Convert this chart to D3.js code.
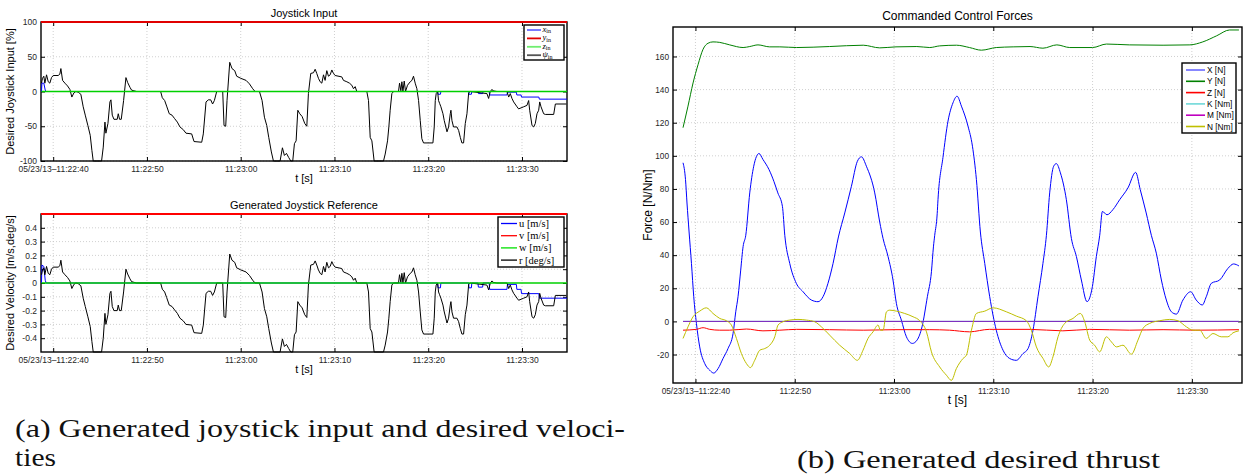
<!DOCTYPE html>
<html lang="en">
<head>
<meta charset="UTF-8">
<title>Joystick input, desired velocities and thrust</title>
<script src="https://d3js.org/d3.v7.min.js"></script>
<style>
    body { margin: 0; background: #fff; }
    svg { display: block; font-family: "Liberation Sans", Arial, sans-serif; }
    .grid line { stroke: #c4c4c4; stroke-width: 0.8; stroke-dasharray: 1,2; }
    .tick line { stroke: #000; stroke-width: 1; }
    .tick text { fill: #262626; }
</style>
</head>
<body>
<div id="fig"></div>
<script>
// ---- time axis (seconds after 11:22:40) ----
let xTickVals = [0, 10, 20, 30, 40, 50]
let xTickLabels = ["05/23/13\u201311:22:40", "11:22:50", "11:23:00", "11:23:10", "11:23:20", "11:23:30"]

// ---- (a) joystick log ----
let tJoy = [-1.25,-1.14,-1.0,-0.89,-0.71,-0.53,-0.36,-0.18,0,0.53,
    0.71,0.82,1.0,1.25,1.53,1.78,1.99,2.21,2.42,2.67,
    2.95,3.2,3.42,3.7,3.95,4.13,4.27,5.16,5.34,5.52,
    5.62,5.84,6.05,6.16,6.3,6.48,6.83,6.94,7.08,7.26,
    7.51,7.76,7.94,8.19,8.36,8.61,8.9,11.46,11.64,11.89,
    12.1,12.38,12.67,12.95,13.24,13.52,13.88,14.16,14.77,15.02,
    15.84,16.01,16.3,16.55,16.8,17.0,17.19,17.44,18.08,18.22,
    18.4,18.54,18.83,19.07,19.36,19.57,20.0,20.57,20.93,21.28,
    21.53,22.0,22.28,22.53,22.78,22.99,23.27,23.49,24.2,24.45,
    24.66,24.88,25.12,25.34,25.55,25.73,25.91,26.09,26.3,26.55,
    26.83,27.05,27.22,27.47,27.76,27.94,28.11,28.29,28.47,28.65,
    28.83,29.0,29.18,29.36,29.54,29.72,29.89,30.07,30.78,30.96,
    31.32,31.6,31.85,32.03,32.21,32.38,33.45,33.63,33.81,33.99,
    34.23,35.23,35.41,35.66,35.8,35.94,36.12,36.3,36.83,36.94,
    37.08,37.19,37.3,37.44,37.58,37.79,38.08,38.26,38.43,38.61,
    38.79,38.97,39.15,39.32,39.5,40.5,40.64,40.75,40.85,41.0,
    41.1,41.21,41.35,41.57,41.71,42.0,42.17,42.35,42.42,42.53,
    42.7,43.06,43.24,43.42,43.59,43.77,43.95,44.13,44.31,44.48,
    46.26,46.44,46.62,46.8,46.9,47.33,48.4,48.58,48.75,48.93,
    49.11,49.47,49.64,50.0,50.18,50.53,50.71,50.82,51.07,51.25,
    51.42,51.6,51.78,51.89,52.03,52.31,52.49,53.38,53.56,54.73]

let psiIn = [12,19,22,12,24,14,12,20,23,23,
    25,33,16,12,8,3,-8,-2,0,-1,
    -4,-22,-34,-49,-63,-85,-100,-100,-80,-44,
    -60,-46,-15,-12,-34,-40,-40,-32,-40,-40,
    -13,20,13,6,2,1,0,0,-9,-13,
    -21,-32,-34,-39,-44,-51,-55,-60,-61,-72,
    -73,-61,-15,-12,-12,-18,-13,0,0,-49,
    -50,-13,42,33,30,22,19,16,11,4,
    0,0,-13,-37,-49,-66,-87,-100,-100,-81,
    -92,-89,-95,-100,-100,-75,-71,-27,-32,-36,
    -46,-50,-3,26,27,32,26,19,14,12,
    24,16,30,22,24,31,26,23,21,16,
    14,12,9,4,7,0,0,-13,-66,-71,
    -100,-100,-90,-71,-51,-27,-3,0,0,12,
    1,14,0,15,0,9,14,16,22,12,
    4,-13,-42,-68,-74,-74,-51,-13,-3,0,
    -13,-17,-22,-32,-42,-58,-51,-32,-27,-42,
    -51,-51,-56,-66,-74,-74,-46,-32,-2,0,
    -3,-10,0,3,1,0,0,-8,-3,-10,
    -15,-22,-25,-23,-22,-20,-13,-27,-49,-51,
    -46,-32,-27,-15,-22,-32,-33,-33,-18,-18]

let rRef = [0.06,0.095,0.11,0.06,0.12,0.07,0.06,0.1,0.115,0.115,
    0.125,0.165,0.08,0.06,0.04,0.015,-0.04,-0.01,0,-0.005,
    -0.02,-0.11,-0.17,-0.245,-0.315,-0.425,-0.5,-0.5,-0.4,-0.22,
    -0.3,-0.23,-0.075,-0.06,-0.17,-0.2,-0.2,-0.16,-0.2,-0.2,
    -0.065,0.1,0.065,0.03,0.01,0.005,0,0,-0.045,-0.065,
    -0.105,-0.16,-0.17,-0.195,-0.22,-0.255,-0.275,-0.3,-0.305,-0.36,
    -0.365,-0.305,-0.075,-0.06,-0.06,-0.09,-0.065,0,0,-0.245,
    -0.25,-0.065,0.21,0.165,0.15,0.11,0.095,0.08,0.055,0.02,
    0,0,-0.065,-0.185,-0.245,-0.33,-0.435,-0.5,-0.5,-0.405,
    -0.46,-0.445,-0.475,-0.5,-0.5,-0.375,-0.355,-0.135,-0.16,-0.18,
    -0.23,-0.25,-0.015,0.13,0.135,0.16,0.13,0.095,0.07,0.06,
    0.12,0.08,0.15,0.11,0.12,0.155,0.13,0.115,0.105,0.08,
    0.07,0.06,0.045,0.02,0.035,0,0,-0.065,-0.33,-0.355,
    -0.5,-0.5,-0.45,-0.355,-0.255,-0.135,-0.015,0,0,0.06,
    0.005,0.07,0,0.075,0,0.045,0.07,0.08,0.11,0.06,
    0.02,-0.065,-0.21,-0.34,-0.37,-0.37,-0.255,-0.065,-0.015,0,
    -0.065,-0.085,-0.11,-0.16,-0.21,-0.29,-0.255,-0.16,-0.135,-0.21,
    -0.255,-0.255,-0.28,-0.33,-0.37,-0.37,-0.23,-0.16,-0.01,0,
    -0.015,-0.05,0,0.015,0.005,0,0,-0.04,-0.015,-0.05,
    -0.075,-0.11,-0.125,-0.115,-0.11,-0.1,-0.065,-0.135,-0.245,-0.255,
    -0.23,-0.16,-0.135,-0.075,-0.11,-0.16,-0.165,-0.165,-0.09,-0.09]

// x_in [%] and u [m/s] step profiles
let xIn = [[-1.25,0],[-1.2,12],[-1.0,12],[-0.85,2],[-0.75,0],[41.0,0],[41.05,-4],[41.3,-4],[41.35,0],
    [44.3,0],[44.35,-4],[44.6,-4],[44.65,0],[45.3,0],[45.35,-3],[45.8,-3],[45.85,0],[46.5,0],[46.55,-5],
    [48.4,-5],[48.45,-1],[49.4,-1],[49.45,-5],[49.9,-5],[49.95,-8],[51.8,-8],[51.85,-11],[54.8,-11]]
let uRef = [[-1.25,0],[-1.2,0.13],[-1.0,0.12],[-0.85,0.02],[-0.75,0],[41.0,0],[41.05,-0.035],[41.3,-0.035],[41.35,0],
    [44.3,0],[44.35,-0.035],[44.6,-0.035],[44.65,0],[45.3,0],[45.35,-0.03],[45.8,-0.03],[45.85,0],[46.5,0],[46.55,-0.046],
    [48.4,-0.046],[48.45,-0.01],[49.4,-0.01],[49.45,-0.046],[49.9,-0.046],[49.95,-0.077],[51.8,-0.077],[51.85,-0.11],[54.8,-0.11]]
let yIn = [[-1.3,100],[54.8,100]]
let zIn = [[-1.25,0],[54.8,0]]
let vRef = [[-1.3,0.5],[54.8,0.5]]
let wRef = [[-1.25,0],[54.8,0]]

// ---- (b) commanded forces ----
let forceX = [[-1.25,95.8],[-1.0,85.6],[-0.85,71.5],[-0.64,54],[-0.4,35],[-0.17,14.9],[0.1,-1.2],[0.43,-15.4],
    [0.94,-25.5],[1.44,-29.5],[1.84,-31.2],[2.28,-28.5],[2.78,-22.4],[3.28,-16.4],[3.79,-7.3],[4.06,5.8],
    [4.29,14.9],[4.56,31],[4.8,45.2],[5.07,52],[5.47,77.6],[5.87,93.7],[6.4,101.4],[6.8,97.8],[7.41,91.7],
    [7.9,84.6],[8.3,77.6],[8.76,69.5],[9.0,52],[9.5,35],[10.16,23],[10.84,17.9],[11.68,12.9],[12.35,11.9],
    [12.85,14.9],[13.35,23],[13.86,35],[14.4,51],[15.04,65.5],[15.71,81.6],[16.31,96.7],[16.72,99.4],
    [17.22,93.7],[18.06,77.6],[18.56,60],[18.9,50],[19.4,39.2],[19.9,25],[20.24,10.9],[20.74,0.8],
    [21.25,-9.3],[21.85,-13.3],[22.32,-11.3],[22.82,-3.3],[23.36,14.9],[23.77,30],[23.97,45],[24.1,52],
    [24.35,65],[24.43,73.5],[24.93,99],[25.44,121],[25.94,132],[26.35,136],[26.79,130],[27.45,118],
    [27.9,105.8],[28.3,85.6],[28.7,54],[29.14,35],[29.64,14.9],[30.3,-5.3],[30.98,-17.4],[31.65,-22.4],
    [32.32,-23.5],[33.0,-19.4],[33.5,-16.4],[34.0,-5.3],[34.5,14.9],[35.0,35],[35.35,52],[35.68,77.6],
    [36.08,93.7],[36.35,95.3],[36.76,89.7],[37.36,73.5],[37.87,50],[38.37,39.2],[38.87,25],[39.44,11.9],
    [39.98,21],[40.38,39.2],[40.72,52],[40.99,66.4],[41.45,64.4],[42.05,67.5],[42.73,73.5],[43.56,80.6],
    [44.34,90],[44.8,79.6],[45.4,65.5],[45.92,52],[46.42,41.2],[46.93,25],[47.43,12.9],[47.94,5.8],
    [48.44,4.4],[49.1,12.9],[49.88,17.9],[50.44,12.9],[51.05,9.9],[51.45,14.9],[51.96,23],[52.8,25],
    [53.63,32],[54.2,34.7],[54.74,33.5]]
let forceY = [[-1.25,117],[-0.75,130],[-0.24,144],[0.26,155],[0.77,164.4],[1.27,168],[1.77,168.8],[2.45,168.5],
    [3.45,167],[4.8,165.4],[5.47,166],[6.3,167],[7.48,165.8],[8.5,165.8],[10.2,165.4],[13.5,166],[16.9,166.8],
    [18.56,165.2],[20.2,165.8],[22.3,166],[23.6,165.4],[24.6,166.4],[26.3,166.8],[27.6,165.4],[28.8,163.8],
    [30.3,165.4],[32,165.8],[33.7,166],[35,165],[36.4,167],[37.7,165.4],[40,165.4],[41.4,167.5],[43.7,167],
    [47.1,166.8],[49.8,167],[51.1,168.8],[52.5,172.5],[53.8,176],[54.74,176]]
let forceZ = [[-1.25,-5.3],[0.1,-4.8],[0.77,-3.8],[1.44,-4.8],[2.45,-5.3],[3.45,-5.3],[5.14,-4.6],[6.8,-5.7],
    [8.5,-5.3],[10.2,-4.8],[13.5,-5],[16.9,-5.3],[20.2,-5],[23.6,-5],[25.6,-5.3],[27.6,-6.3],[29.6,-4.8],
    [33.7,-4.8],[37,-5.7],[39.7,-4.8],[43.7,-5.3],[47.1,-5],[50.4,-5.3],[54.74,-5]]
let forceK = [[-1.25,0],[54.74,0]]
let forceM = [[-1.25,0],[54.74,0]]
let forceN = [[-1.25,-10.3],[-0.75,-3.3],[-0.24,2.8],[0.43,6.2],[1.1,8.2],[1.77,4.8],[2.45,1.8],[3.12,0.4],
    [3.62,-2.2],[4.13,-10.3],[4.63,-19.4],[5.14,-25.5],[5.54,-27.9],[5.97,-23.5],[6.48,-17.4],[6.98,-16.4],
    [7.48,-14.4],[7.99,-9.3],[8.32,-2.2],[8.82,-0.2],[9.5,0.8],[10.33,1.2],[11.18,0.8],[12.01,-0.2],
    [12.69,-3.3],[13.52,-8.3],[14.53,-14.4],[15.54,-19.4],[16.31,-23.5],[16.88,-17.4],[17.38,-10.3],
    [17.89,-6.3],[18.39,-2.2],[18.63,-5.3],[18.9,-5.3],[19.24,5.8],[19.57,6.8],[20.24,6.2],[21.08,4.8],
    [21.92,2.8],[22.59,0.4],[23.27,-6.3],[23.77,-18.4],[24.6,-27.5],[25.28,-32.5],[25.78,-35.6],[26.28,-28.5],
    [26.95,-22.4],[27.29,-20.4],[27.8,-5.3],[28.3,4.8],[29.14,6.2],[29.97,8.2],[31.32,5.8],[32.32,3.2],
    [33.33,0.4],[33.83,-5.3],[34.34,-15.4],[35.01,-22.4],[35.58,-27.5],[36.01,-21.4],[36.52,-9.3],
    [37.19,-1.2],[38.03,1.8],[38.77,4.8],[39.21,-0.2],[39.71,-11.3],[40.21,-14.4],[40.72,-18.4],[41.39,-9.3],
    [41.9,-12.4],[42.4,-15.4],[43.06,-14.4],[43.91,-19.8],[44.57,-11.3],[45.08,-4.2],[45.75,-1.2],[46.76,0.4],
    [47.77,1.2],[48.6,0.4],[49.45,-3.3],[50.12,-5.3],[50.79,-5.3],[51.45,-10.3],[52.12,-7.3],[52.96,-9.3],
    [53.63,-9.3],[54.14,-6.9],[54.74,-5.7]]

let joyTicks = [-100, -50, 0, 50, 100]
let velTicks = [-0.4, -0.3, -0.2, -0.1, 0, 0.1, 0.2, 0.3, 0.4]
let forceTicks = [-20, 0, 20, 40, 60, 80, 100, 120, 140, 160]

let W = 1249, H = 476
let serif = "'Liberation Serif', 'Times New Roman', serif"
let svg = d3.select("#fig").append("svg").attr("width", W).attr("height", H)
svg.append("rect").attr("width", W).attr("height", H).attr("fill", "#fff")

let clipId = 0

function panel(o) {
    let g = svg.append("g")
    let x = d3.scaleLinear().domain(o.xDomain).range([o.left, o.right])
    let y = d3.scaleLinear().domain(o.yDomain).range([o.bottom, o.top])

    // dotted grid
    let grid = g.append("g").attr("class", "grid")
    grid.selectAll(".gx").data(xTickVals).join("line")
        .attr("x1", d => x(d)).attr("x2", d => x(d))
        .attr("y1", o.top).attr("y2", o.bottom)
    grid.selectAll(".gy").data(o.yTicks.filter(d => d !== 0)).join("line")
        .attr("x1", o.left).attr("x2", o.right)
        .attr("y1", d => y(d)).attr("y2", d => y(d))

    // axes with inward ticks on all four sides
    let bottomAxis = g.append("g").attr("transform", `translate(0,${o.bottom})`)
        .call(d3.axisBottom(x).tickValues(xTickVals).tickFormat((d, i) => xTickLabels[i])
            .tickSize(-4).tickPadding(5))
    let topAxis = g.append("g").attr("transform", `translate(0,${o.top})`)
        .call(d3.axisTop(x).tickValues(xTickVals).tickFormat("").tickSize(-4))
    let leftAxis = g.append("g").attr("transform", `translate(${o.left},0)`)
        .call(d3.axisLeft(y).tickValues(o.yTicks).tickFormat(d => d === 0 ? "0" : String(d))
            .tickSize(-4).tickPadding(4))
    let rightAxis = g.append("g").attr("transform", `translate(${o.right},0)`)
        .call(d3.axisRight(y).tickValues(o.yTicks).tickFormat("").tickSize(-4))
    ;[bottomAxis, topAxis, leftAxis, rightAxis].forEach(a => {
        a.select(".domain").remove()
        a.selectAll("text").attr("font-size", o.tickFont).attr("font-family", "Liberation Sans, Arial, sans-serif")
    })

    // box
    g.append("rect").attr("x", o.left).attr("y", o.top)
        .attr("width", o.right - o.left).attr("height", o.bottom - o.top)
        .attr("fill", "none").attr("stroke", "#000").attr("stroke-width", 1.4)

    // data, drawn over the box like the original
    let id = "clip" + (clipId++)
    g.append("clipPath").attr("id", id).append("rect")
        .attr("x", o.left).attr("y", o.top - 1)
        .attr("width", o.right - o.left).attr("height", o.bottom - o.top + 2)
    let lines = g.append("g").attr("clip-path", `url(#${id})`)
    o.series.forEach(function (s) {
        let line = d3.line().x(d => x(d[0])).y(d => y(d[1]))
        if (o.smooth) line.curve(d3.curveMonotoneX)
        lines.append("path").datum(s.data)
            .attr("fill", "none").attr("stroke", s.color)
            .attr("stroke-width", s.width || 1)
            .attr("stroke-linejoin", "round")
            .attr("d", line)
    })

    // titles and labels
    g.append("text").attr("x", (o.left + o.right) / 2).attr("y", o.titleY)
        .attr("text-anchor", "middle").attr("font-size", o.titleFont).text(o.title)
    g.append("text").attr("x", (o.left + o.right) / 2).attr("y", o.xLabelY)
        .attr("text-anchor", "middle").attr("font-size", o.labelFont).text("t [s]")
    g.append("text").attr("transform", `translate(${o.yLabelX},${(o.top + o.bottom) / 2}) rotate(-90)`)
        .attr("text-anchor", "middle").attr("font-size", o.labelFont).text(o.yLabel)

    return {g: g, x: x, y: y}
}

function legend(g, box, items, opt) {
    let lg = g.append("g")
    lg.append("rect").attr("x", box[0]).attr("y", box[1]).attr("width", box[2]).attr("height", box[3])
        .attr("fill", "#fff").attr("stroke", "#000").attr("stroke-width", 1.4)
    items.forEach(function (it, i) {
        let cy = box[1] + opt.first + i * opt.step
        lg.append("line").attr("x1", box[0] + opt.l0).attr("x2", box[0] + opt.l1)
            .attr("y1", cy).attr("y2", cy).attr("stroke", it.color).attr("stroke-width", opt.lw)
        let t = lg.append("text").attr("x", box[0] + opt.tx).attr("y", cy + opt.dy)
            .attr("font-size", opt.font).attr("font-family", opt.family)
        if (it.sub) {
            t.append("tspan").attr("font-style", "italic").text(it.name)
            t.append("tspan").attr("dy", 1.5).attr("font-size", opt.font * 0.7).text(it.sub)
        } else {
            t.text(it.name)
        }
    })
}

// (a) top: joystick input
let joyPanel = panel({
    left: 41, right: 567, top: 22, bottom: 161,
    xDomain: [-1.3, 54.8], yDomain: [-100, 100], yTicks: joyTicks,
    title: "Joystick Input", titleY: 17, xLabelY: 182, yLabelX: 14,
    yLabel: "Desired Joystick Input [%]",
    tickFont: 8.5, titleFont: 11, labelFont: 11,
    series: [
        {data: xIn, color: "#0000ff"},
        {data: yIn, color: "#e00000", width: 1.8},
        {data: d3.zip(tJoy, psiIn), color: "#000"},
        {data: zIn, color: "#00d000", width: 1.3}
    ]
})
legend(joyPanel.g, [524, 25, 40, 35], [
    {name: "x", sub: "in", color: "#6a6aff"},
    {name: "y", sub: "in", color: "#e00000"},
    {name: "z", sub: "in", color: "#70ee70"},
    {name: "\u03c8", sub: "in", color: "#555"}
], {first: 5, step: 8.4, l0: 3, l1: 17, tx: 18.5, dy: 1.8, font: 8.6, lw: 1.8, family: serif})

// (a) bottom: velocity reference
let velPanel = panel({
    left: 41, right: 567, top: 214, bottom: 352,
    xDomain: [-1.3, 54.8], yDomain: [-0.5, 0.5], yTicks: velTicks,
    title: "Generated Joystick Reference", titleY: 209, xLabelY: 373, yLabelX: 14,
    yLabel: "Desired Velocity [m/s,deg/s]",
    tickFont: 8.5, titleFont: 11, labelFont: 11,
    series: [
        {data: uRef, color: "#0000ff"},
        {data: vRef, color: "#ff0000", width: 1.8},
        {data: d3.zip(tJoy, rRef), color: "#000"},
        {data: wRef, color: "#00d000", width: 1.3}
    ]
})
legend(velPanel.g, [498, 217, 66, 50], [
    {name: "u  [m/s]", color: "#0000ff"},
    {name: "v  [m/s]", color: "#ff0000"},
    {name: "w  [m/s]", color: "#00e000"},
    {name: "r  [deg/s]", color: "#000"}
], {first: 6.5, step: 12.2, l0: 3, l1: 19, tx: 21, dy: 3.5, font: 10.5, lw: 1.3, family: serif})

// (b) commanded control forces
let forcePanel = panel({
    left: 673, right: 1242, top: 27, bottom: 383,
    xDomain: [-2.26, 55.05], yDomain: [-37.2, 177.8], yTicks: forceTicks,
    title: "Commanded Control Forces", titleY: 20, xLabelY: 404, yLabelX: 652,
    yLabel: "Force [N/Nm]", smooth: true,
    tickFont: 8.3, titleFont: 12, labelFont: 12,
    series: [
        {data: forceX, color: "#0000ff"},
        {data: forceY, color: "#008000"},
        {data: forceZ, color: "#ff0000"},
        {data: forceK, color: "#00bfbf"},
        {data: forceM, color: "#8a1fbf"},
        {data: forceN, color: "#bfbf00"}
    ]
})
legend(forcePanel.g, [1182, 63, 54, 70], [
    {name: "X [N]", color: "#6a6aff"},
    {name: "Y [N]", color: "#008000"},
    {name: "Z [N]", color: "#ff0000"},
    {name: "K [Nm]", color: "#6fd8d8"},
    {name: "M [Nm]", color: "#bf00bf"},
    {name: "N [Nm]", color: "#bfbf00"}
], {first: 7, step: 11.3, l0: 4, l1: 23, tx: 25, dy: 3, font: 8.3, lw: 1.6, family: "Liberation Sans, Arial, sans-serif"})

// sub-figure captions
function caption(x, y, len, txt) {
    svg.append("text").attr("x", x).attr("y", y)
        .attr("font-family", serif).attr("font-size", 25).attr("fill", "#111")
        .attr("textLength", len).attr("lengthAdjust", "spacingAndGlyphs")
        .text(txt)
}
caption(15, 437, 610, "(a) Generated joystick input and desired veloci-")
caption(15, 466, 41, "ties")
caption(797, 468, 363, "(b) Generated desired thrust")
</script>
</body>
</html>
